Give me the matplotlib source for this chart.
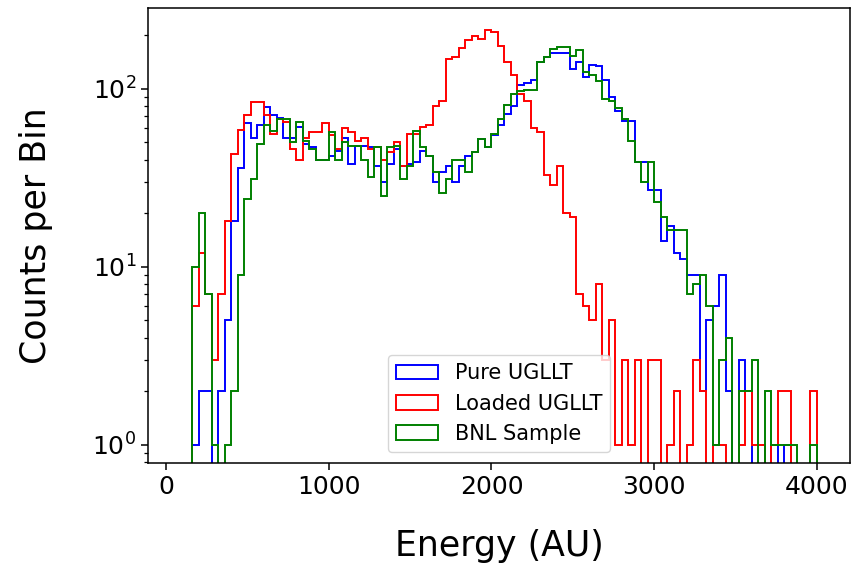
import numpy as np
import matplotlib
matplotlib.use("Agg")
import matplotlib.pyplot as plt

# histogram bins: 100 bins of 40 AU between 0 and 4000
bin_edges = np.linspace(0, 4000, 101)

# counts per bin (bins 0..99)
pure_counts = [
    0, 0, 0, 0, 1, 2, 2, 0, 2, 5,
    18, 36, 64, 53, 63, 79, 71, 69, 53, 53,
    61, 49, 47, 40, 40, 42, 45, 53, 38, 48,
    48, 47, 37, 30, 38, 46, 37, 38, 39, 45,
    42, 30, 34, 37, 30, 37, 42, 44, 52, 47,
    55, 63, 72, 80, 105, 108, 112, 142, 150, 158,
    158, 160, 130, 142, 117, 136, 134, 112, 90, 75,
    66, 66, 39, 39, 27, 27, 14, 17, 12, 11,
    9, 9, 2, 5, 6, 9, 2, 0, 3, 2,
    0, 0, 0, 1, 0, 1, 0, 0, 0, 0,
]

loaded_counts = [
    0, 0, 0, 0, 6, 12, 7, 3, 7, 18,
    43, 59, 71, 84, 84, 71, 56, 68, 65, 46,
    40, 53, 57, 57, 64, 55, 46, 60, 57, 51,
    53, 46, 47, 40, 44, 50, 37, 56, 56, 61,
    63, 80, 85, 147, 150, 169, 188, 197, 190, 214,
    208, 173, 142, 120, 93, 85, 60, 57, 33, 29,
    37, 20, 19, 7, 6, 5, 8, 3, 5, 1,
    3, 1, 3, 0, 3, 3, 0, 1, 2, 0,
    1, 3, 2, 0, 1, 1, 0, 0, 1, 2,
    1, 1, 0, 1, 2, 2, 0, 0, 0, 2,
]

bnl_counts = [
    0, 0, 0, 0, 10, 20, 7, 1, 0, 1,
    2, 9, 24, 31, 49, 63, 58, 68, 68, 50,
    65, 51, 46, 40, 40, 57, 40, 50, 48, 48,
    40, 32, 47, 25, 47, 48, 31, 37, 58, 47,
    42, 34, 26, 31, 40, 40, 34, 44, 52, 47,
    56, 68, 81, 93, 97, 98, 98, 142, 150, 167,
    171, 171, 153, 166, 125, 120, 110, 88, 85, 78,
    68, 51, 39, 30, 39, 23, 19, 16, 16, 16,
    7, 8, 9, 6, 1, 3, 4, 0, 2, 2,
    3, 0, 2, 1, 1, 1, 1, 0, 0, 1,
]

series = [
    ("Pure UGLLT", pure_counts, "blue"),
    ("Loaded UGLLT", loaded_counts, "red"),
    ("BNL Sample", bnl_counts, "green"),
]

fig = plt.figure(figsize=(8.65, 5.63), dpi=100)
ax = fig.add_axes([0.171, 0.178, 0.812, 0.808])

centers = 0.5 * (bin_edges[:-1] + bin_edges[1:])
for label, counts, color in series:
    ax.hist(centers, bins=bin_edges, weights=counts, histtype="step",
            color=color, log=True, label=label, linewidth=1.4)

ax.set_xlim(-111, 4205)
ax.set_ylim(0.792, 285)
ax.set_xticks([0, 1000, 2000, 3000, 4000])
ax.tick_params(axis="both", which="major", labelsize=18, length=5, width=1.1)
ax.tick_params(axis="y", which="minor", length=3, width=0.9)
for spine in ax.spines.values():
    spine.set_linewidth(1.1)
ax.set_xlabel("Energy (AU)", fontsize=25, labelpad=22)
ax.set_ylabel("Counts per Bin", fontsize=25, labelpad=28)
ax.legend(loc="lower center", fontsize=15)

fig.savefig("out.png", dpi=100)
